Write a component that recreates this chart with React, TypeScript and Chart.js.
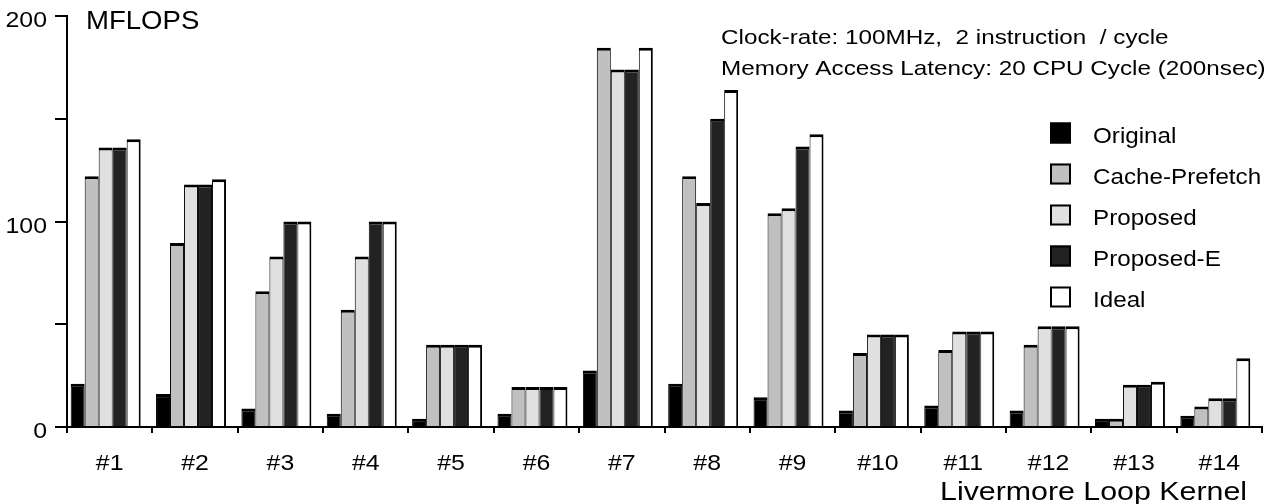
import { useEffect, useRef } from 'react';
import { Chart, registerables } from 'chart.js';

Chart.register(...registerables);

const CATEGORIES = ['#1', '#2', '#3', '#4', '#5', '#6', '#7', '#8', '#9', '#10', '#11', '#12', '#13', '#14'];
const SERIES_NAMES = ['Original', 'Cache-Prefetch', 'Proposed', 'Proposed-E', 'Ideal'];
const ORIGINAL = [21, 16, 9, 6.5, 4, 6.5, 27.5, 21, 14.5, 8, 10.5, 8, 4, 5.5];
const CACHE_PREFETCH = [122, 89.5, 66, 57, 40, 19.5, 184.5, 122, 104, 36, 37.5, 40, 4, 10];
const PROPOSED = [136, 118, 83, 83, 40, 19.5, 174, 109, 106.5, 45, 46.5, 49, 20.5, 14];
const PROPOSED_E = [136, 118, 100, 100, 40, 19.5, 174, 150, 136.5, 45, 46.5, 49, 20.5, 14];
const IDEAL = [140, 120.5, 100, 100, 40, 19.5, 184.5, 164, 142.5, 45, 46.5, 49, 22, 33.5];
const SERIES_COLORS = ['#000000', '#c0c0c0', '#e0e0e0', '#222222', '#ffffff'];
const Y_TICK_LABELS = [0, 100, 200];
const Y_UNIT = 'MFLOPS';
const X_TITLE = 'Livermore Loop Kernel';
const ANNOTATION_LINES = [
  'Clock-rate: 100MHz,  2 instruction  / cycle',
  'Memory Access Latency: 20 CPU Cycle (200nsec)',
];

const FONT = '"Liberation Sans", Arial, Helvetica, sans-serif';

function drawText(
  ctx: CanvasRenderingContext2D,
  text: string,
  x: number,
  y: number,
  size: number,
  align: CanvasTextAlign,
  sx: number
) {
  ctx.save();
  ctx.font = `${size}px ${FONT}`;
  ctx.textAlign = align;
  ctx.textBaseline = 'alphabetic';
  ctx.fillStyle = '#000';
  ctx.translate(x, y);
  ctx.scale(sx, 1);
  ctx.fillText(text, 0, 0);
  ctx.restore();
}

const shiftPlugin = {
  id: 'barShift',
  beforeDatasetsDraw(chart: any) {
    chart.ctx.save();
    chart.ctx.translate(-4, 0);
  },
  afterDatasetsDraw(chart: any) {
    chart.ctx.restore();
  },
};

const textPlugin = {
  id: 'customText',
  afterDraw(chart: any) {
    const ctx: CanvasRenderingContext2D = chart.ctx;
    const xs = chart.scales.x;
    const ys = chart.scales.y;
    Y_TICK_LABELS.forEach((v) => {
      drawText(ctx, String(v), 47, ys.getPixelForValue(v) + 11, 22, 'right', 1.13);
    });
    CATEGORIES.forEach((c, i) => {
      drawText(ctx, c, xs.getPixelForValue(i), 470, 22, 'center', 1.13);
    });
    drawText(ctx, X_TITLE, 1247, 500, 25.5, 'right', 1.19);
    drawText(ctx, Y_UNIT, 86, 29, 26, 'left', 1.06);
    ANNOTATION_LINES.forEach((line, i) => {
      drawText(ctx, line, 721, 43.5 + i * 31.7, 21, 'left', 1.155);
    });
    chart.data.datasets.forEach((ds: any, i: number) => {
      const top = 122.5 + i * 41;
      ctx.save();
      ctx.fillStyle = ds.backgroundColor;
      ctx.fillRect(1050, top, 21, 21);
      ctx.strokeStyle = '#000';
      ctx.lineWidth = 2;
      ctx.strokeRect(1051, top + 1, 19, 19);
      ctx.restore();
      drawText(ctx, ds.label, 1093, top + 20, 22, 'left', 1.1);
    });
  },
};

export default function App() {
  const ref = useRef<HTMLCanvasElement>(null);

  useEffect(() => {
    const seriesValues = [ORIGINAL, CACHE_PREFETCH, PROPOSED, PROPOSED_E, IDEAL];
    const chart = new Chart(ref.current as HTMLCanvasElement, {
      type: 'bar',
      data: {
        labels: CATEGORIES,
        datasets: SERIES_NAMES.map((name, i) => ({
          label: name,
          data: seriesValues[i],
          backgroundColor: SERIES_COLORS[i],
          borderColor: '#000',
          borderWidth: { top: 3, left: 1, right: i === 4 ? 2 : 1, bottom: 0 },
          borderSkipped: 'bottom',
          categoryPercentage: 0.82,
          barPercentage: 1,
        })),
      },
      options: {
        animation: false,
        responsive: false,
        maintainAspectRatio: false,
        devicePixelRatio: 1,
        layout: { padding: { top: 16, right: 9, left: 0, bottom: 0 } },
        plugins: {
          legend: { display: false },
          tooltip: { enabled: false },
        },
        scales: {
          x: {
            type: 'category',
            offset: true,
            grid: {
              offset: true,
              drawOnChartArea: false,
              drawTicks: true,
              tickLength: 6,
              lineWidth: 2,
              color: '#000',
            },
            border: { display: true, width: 2, color: '#000' },
            ticks: { display: false },
            afterFit: (s: any) => {
              s.height = 77;
            },
          },
          y: {
            min: 0,
            max: 200,
            ticks: { stepSize: 50, display: false },
            grid: {
              drawOnChartArea: false,
              drawTicks: true,
              tickLength: 12,
              lineWidth: 2,
              color: '#000',
            },
            border: { display: true, width: 2, color: '#000' },
            afterFit: (s: any) => {
              s.width = 67;
            },
          },
        },
      } as any,
      plugins: [shiftPlugin, textPlugin],
    });
    return () => chart.destroy();
  }, []);

  return (
    <div style={{ position: 'absolute', left: 0, top: 0, width: 1271, height: 504, background: '#fff' }}>
      <canvas ref={ref} width={1271} height={504} style={{ display: 'block', width: 1271, height: 504 }} />
    </div>
  );
}
